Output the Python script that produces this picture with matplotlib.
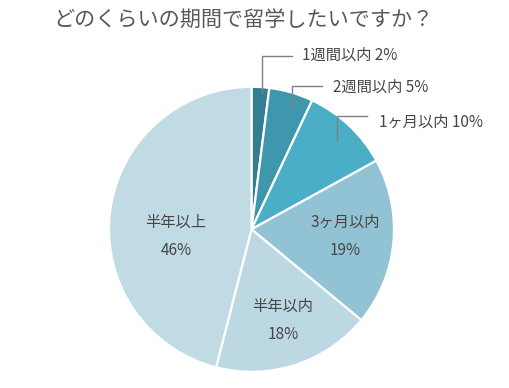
import matplotlib.pyplot as plt

plt.rcParams['font.family'] = ['Noto Sans CJK JP', 'DejaVu Sans']

labels = ['1週間以内', '2週間以内', '1ヶ月以内', '3ヶ月以内', '半年以内', '半年以上']
values = [2, 5, 10, 19, 18, 46]
colors = ['#327f91', '#3f97ae', '#4aaec7', '#92c3d4', '#bbd8e3', '#c1dbe4']

W, H = 509, 388
cx, cy, R = 251.5, 229.3, 142.5

fig = plt.figure(figsize=(W / 100, H / 100), dpi=100)
ax = fig.add_axes([(cx - R) / W, (H - cy - R) / H, 2 * R / W, 2 * R / H])

ax.pie(values, colors=colors, startangle=90, counterclock=False, radius=1,
       wedgeprops=dict(edgecolor='white', linewidth=1.6))
ax.set_xlim(-1, 1)
ax.set_ylim(-1, 1)
ax.set_aspect('equal')
ax.axis('off')


def px(x, y):
    # pixel position -> data coords of the pie axes
    return (x - cx) / R, (cy - y) / R


# outside labels with leader lines (start in slice, elbow, end)
leaders = [
    ((261.7, 93), (261.7, 56), (291.7, 56), (301.5, 55)),
    ((291.7, 108), (291.7, 86), (321.7, 86), (333, 87)),
    ((337.3, 140), (337.3, 116), (367.3, 116), (379, 122.5)),
]
for i, (p0, p1, p2, pt) in enumerate(leaders):
    xs, ys = zip(*[px(*p) for p in (p0, p1, p2)])
    ax.plot(xs, ys, color='#808080', lw=1, clip_on=False)
    tx, ty = px(*pt)
    ax.text(tx, ty, f'{labels[i]} {values[i]}%', fontsize=11,
            color='#454545', ha='left', va='center')

# inside labels
inside = {3: (345, 236), 4: (283, 320), 5: (176, 236)}
for i, pos in inside.items():
    tx, ty = px(*pos)
    ax.text(tx, ty, f'{labels[i]}\n\n{values[i]}%', fontsize=11,
            color='#454545', ha='center', va='center', linespacing=0.79)

fig.text(243.5 / W, 1 - 20 / H, 'どのくらいの期間で留学したいですか？',
         fontsize=15.2, color='#595959', ha='center', va='center')

fig.savefig('out.png', dpi=100)
